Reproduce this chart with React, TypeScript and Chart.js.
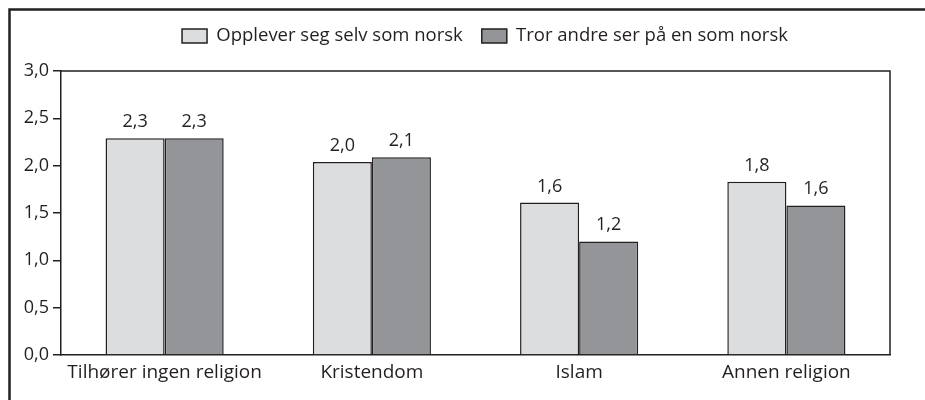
import React, { useEffect, useRef } from "react";
import { Chart, registerables } from "chart.js";

Chart.register(...registerables);

const categories = ["Tilhører ingen religion", "Kristendom", "Islam", "Annen religion"];
const seriesNames = ["Opplever seg selv som norsk", "Tror andre ser på en som norsk"];
const selfValues = [2.29, 2.04, 1.61, 1.83];
const othersValues = [2.29, 2.09, 1.2, 1.58];
const yMin = 0;
const yMax = 3;
const yStep = 0.5;

const INK = "#231f20";
const FONT = "'Open Sans', 'Noto Sans', sans-serif";

const fmt = (v: number) => Number(v).toFixed(1).replace(".", ",");

const framePlugin = {
  id: "frame",
  beforeDraw(chart: any) {
    const { ctx } = chart;
    ctx.save();
    ctx.strokeStyle = INK;
    ctx.lineWidth = 2.5;
    ctx.beginPath();
    ctx.moveTo(9.5, 400);
    ctx.lineTo(9.5, 9.5);
    ctx.lineTo(925, 9.5);
    ctx.stroke();
    ctx.restore();
  },
  afterDatasetsDraw(chart: any) {
    const { ctx, chartArea } = chart;
    ctx.save();
    ctx.strokeStyle = INK;
    ctx.lineWidth = 1.5;
    ctx.beginPath();
    ctx.moveTo(chartArea.left, chartArea.top);
    ctx.lineTo(chartArea.right, chartArea.top);
    ctx.lineTo(chartArea.right, chartArea.bottom);
    ctx.stroke();
    // value labels
    ctx.fillStyle = INK;
    ctx.font = `18px ${FONT}`;
    ctx.textAlign = "center";
    ctx.textBaseline = "alphabetic";
    chart.data.datasets.forEach((ds: any, di: number) => {
      const meta = chart.getDatasetMeta(di);
      meta.data.forEach((el: any, i: number) => {
        ctx.fillText(fmt(ds.data[i]), el.x, el.y - 11);
      });
    });
    ctx.restore();
  },
};

export default function App() {
  const ref = useRef<HTMLCanvasElement | null>(null);
  useEffect(() => {
    if (!ref.current) return;
    const chart = new Chart(ref.current, {
      type: "bar",
      data: {
        labels: categories,
        datasets: [
          {
            label: seriesNames[0],
            data: selfValues,
            backgroundColor: "#dcdddf",
            borderColor: INK,
            borderWidth: 1.5,
            categoryPercentage: 0.57,
            barPercentage: 1.0,
          },
          {
            label: seriesNames[1],
            data: othersValues,
            backgroundColor: "#939598",
            borderColor: INK,
            borderWidth: 1.5,
            categoryPercentage: 0.57,
            barPercentage: 1.0,
          },
        ],
      },
      options: {
        responsive: false,
        animation: false,
        layout: { padding: { left: 45, right: 0, top: 7.75, bottom: 0 } },
        plugins: {
          tooltip: { enabled: false },
          legend: {
            display: true,
            position: "top",
            align: "center",
            labels: {
              boxWidth: 25,
              boxHeight: 14,
              padding: 19,
              color: INK,
              font: { family: FONT, size: 18.5 },
              generateLabels: (chart: any) =>
                chart.data.datasets.map((ds: any, i: number) => ({
                  text: ds.label,
                  fillStyle: ds.backgroundColor,
                  strokeStyle: INK,
                  lineWidth: 1.5,
                  fontColor: INK,
                  hidden: false,
                  datasetIndex: i,
                })),
            },
          },
        },
        scales: {
          x: {
            type: "category",
            position: "bottom",
            grid: { display: false, drawTicks: false },
            border: { display: true, color: INK, width: 1.5 },
            ticks: { color: INK, font: { family: FONT, size: 19 }, padding: 6, maxRotation: 0 },
            afterFit: (s: any) => {
              s.height = 45;
            },
          },
          xTop: {
            type: "category",
            position: "top",
            display: true,
            grid: { display: false, drawTicks: false },
            border: { display: false },
            ticks: { display: false },
            afterFit: (s: any) => {
              s.height = 15.75;
            },
          },
          y: {
            type: "linear",
            position: "left",
            min: yMin,
            max: yMax,
            ticks: {
              stepSize: yStep,
              color: INK,
              font: { family: FONT, size: 18 },
              padding: 4,
              callback: (v: any) => fmt(Number(v)),
            },
            grid: { display: true, drawOnChartArea: false, drawTicks: true, tickLength: 8, color: INK, lineWidth: 1.5 },
            border: { display: true, color: INK, width: 1.5 },
            afterFit: (s: any) => {
              s.width = 16;
              s._computeLabelArea = () => undefined;
            },
          },
          yRight: {
            type: "linear",
            position: "right",
            display: true,
            grid: { display: false, drawTicks: false },
            border: { display: false },
            ticks: { display: false },
            afterFit: (s: any) => {
              s.width = 35;
            },
          },
        },
      } as any,
      plugins: [framePlugin],
    });
    return () => chart.destroy();
  }, []);
  return (
    <div style={{ position: "absolute", left: 0, top: 0, width: 925, height: 400, background: "#fff" }}>
      <canvas ref={ref} width={925} height={400} />
    </div>
  );
}
